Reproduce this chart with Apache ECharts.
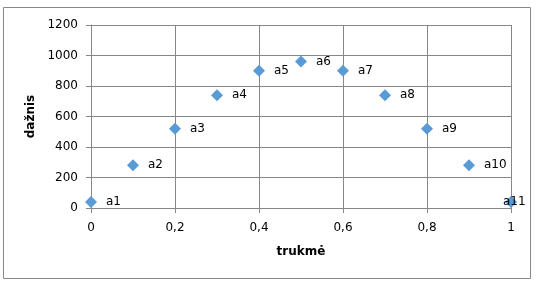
<!DOCTYPE html>
<html><head><meta charset="utf-8">
<script src="https://cdn.jsdelivr.net/npm/echarts@6/dist/echarts.min.js"></script>
<style>html,body{margin:0;padding:0;background:#fff}#c{width:537px;height:284px}</style>
</head><body><div id="c"></div>
<script>
var xValues = [0, 0.1, 0.2, 0.3, 0.4, 0.5, 0.6, 0.7, 0.8, 0.9, 1];
var yValues = [40, 280, 520, 740, 900, 960, 900, 740, 520, 280, 40];
var pointLabels = ['a1','a2','a3','a4','a5','a6','a7','a8','a9','a10','a11'];
var xTitle = 'trukmė';
var yTitle = 'dažnis';

var data = xValues.map(function(x, i){
  var d = {value:[x, yValues[i]], name: pointLabels[i]};
  if (i === xValues.length - 1) d.label = {offset:[-23, 0]};
  return d;
});
var chart = echarts.init(document.getElementById('c'), null, {renderer:'canvas'});
var gridColor = '#878787';
chart.setOption({
  animation:false,
  backgroundColor:'#fff',
  graphic:[{type:'rect', shape:{x:3.5,y:7.5,width:527,height:271}, style:{fill:'none', stroke:'#8a8a8a', lineWidth:1}, z:-1}],
  grid:{left:91, right:26, top:25, bottom:76},
  xAxis:{type:'value', min:0, max:1, interval:0.2,
    name:xTitle, nameLocation:'middle', nameGap:38,
    nameTextStyle:{fontFamily:'DejaVu Sans', fontSize:12, fontWeight:'bold', color:'#000'},
    axisLine:{show:true, lineStyle:{color:gridColor}},
    axisTick:{show:true, length:5, lineStyle:{color:gridColor}},
    splitLine:{show:true, lineStyle:{color:gridColor}},
    axisLabel:{fontFamily:'DejaVu Sans', fontSize:12, color:'#000', margin:14,
      formatter:function(v){ return String(Math.round(v*10)/10).replace('.', ','); }}
  },
  yAxis:{type:'value', min:0, max:1200, interval:200,
    name:yTitle, nameLocation:'middle', nameGap:52, nameRotate:90,
    nameTextStyle:{fontFamily:'DejaVu Sans', fontSize:12, fontWeight:'bold', color:'#000'},
    axisLine:{show:true, lineStyle:{color:gridColor}},
    axisTick:{show:true, length:5, lineStyle:{color:gridColor}},
    splitLine:{show:true, lineStyle:{color:gridColor}},
    axisLabel:{fontFamily:'DejaVu Sans', fontSize:12, color:'#000', margin:13,
      formatter:function(v){ return String(v); }}
  },
  series:[{type:'scatter', data:data, symbol:'diamond', symbolSize:12,
    itemStyle:{color:'#5B9BD5', opacity:1},
    label:{show:true, position:'right', distance:9, formatter:'{b}', fontFamily:'DejaVu Sans', fontSize:12, color:'#000'}
  }]
});
</script></body></html>
